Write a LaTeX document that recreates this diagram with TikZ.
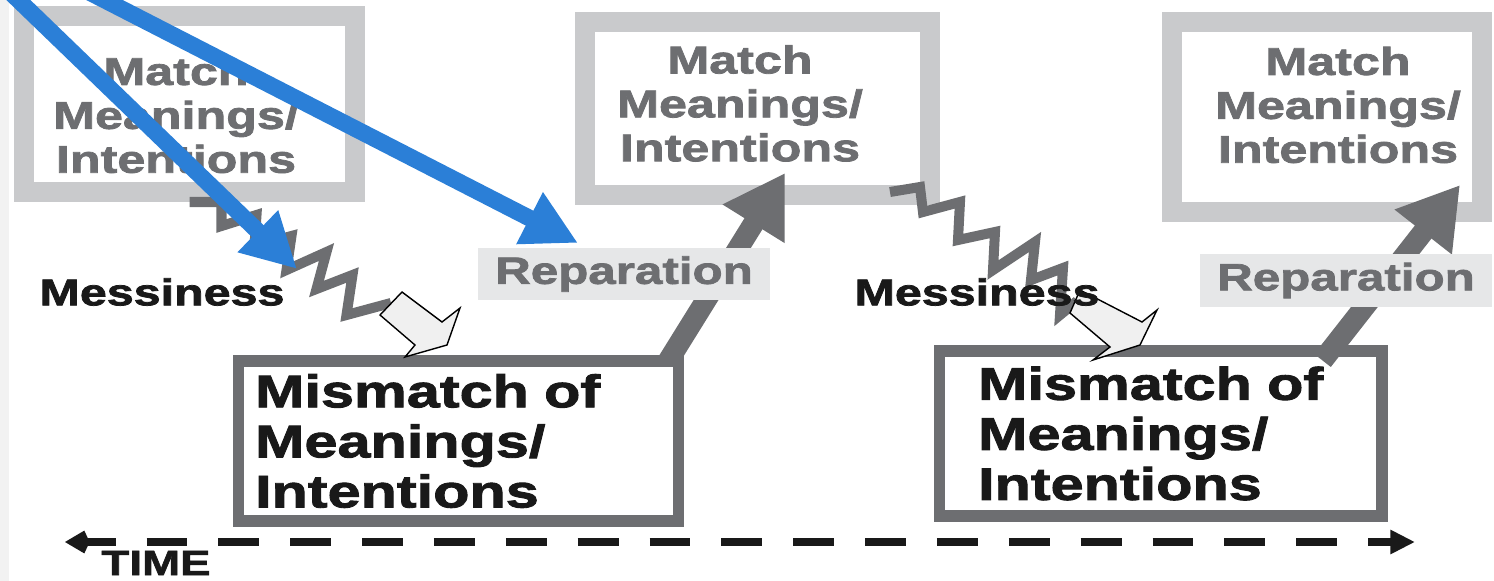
\documentclass[tikz,border=0pt]{standalone}
\usepackage{fontspec}
\usepackage{xcolor}
\usepackage{tikz}
\usetikzlibrary{arrows.meta,calc}
\newfontfamily\diagfont{Liberation Sans}[FakeStretch=1.3, FakeBold=2]
\definecolor{matchgray}{RGB}{201,202,204}
\definecolor{inkgray}{RGB}{109,110,113}
\definecolor{labelgray}{RGB}{230,231,232}
\definecolor{markblue}{RGB}{43,127,215}

\begin{document}
\begin{tikzpicture}[x=0.02cm, y=-0.02cm,
  matchbox/.style={draw=matchgray, line width=11.4pt, rectangle, inner sep=0pt},
  matchtext/.style={inner sep=0pt, align=center, text=inkgray, font=\diagfont\bfseries\fontsize{22}{25}\selectfont},
  mismatchbox/.style={draw=inkgray, line width=6.3pt, rectangle, inner sep=0pt, align=left, text=black!90, font=\diagfont\bfseries\fontsize{26}{28.5}\selectfont},
  replabel/.style={fill=labelgray, rectangle, inner sep=0pt, text=inkgray, font=\diagfont\bfseries\fontsize{21.6}{24}\selectfont},
  messlabel/.style={inner sep=0pt, text=black!90, font=\diagfont\bfseries\fontsize{21.2}{24}\selectfont},
  zigzag/.style={draw=inkgray, line width=5.7pt},
  hollow/.style={draw=black, line width=0.8pt, fill=gray!12},
  reparrow/.style={draw=inkgray, line width=12pt, -{Triangle[length=34pt 0 0, width=39pt 0 0]}},
  markarrow/.style={draw=markblue, line width=9.5pt, -{Triangle[length=31pt 0 0, width=31pt 0 0]}},
  timeline/.style={draw=black!90, line width=5.1pt, dash pattern=on 23.3pt off 17.6pt, dash phase=5.7pt,
    {Kite[length=14pt 0 0, width=13pt 0 0, inset=3pt 0 0]}-{Triangle[length=14pt 0 0, width=13pt 0 0]}},
]
\useasboundingbox (0,0) rectangle (1494,581);
\clip (0,0) rectangle (1494,581);
\fill[black!5] (0,0) rectangle (9,581);

% boxes
\node[matchbox, minimum width=6.62cm, minimum height=3.52cm,
  label={[matchtext, xshift=-0.27cm, yshift=-0.22cm]center:{Match\\Meanings/\\Intentions}}] (m1) at (189.5,104) {};
\node[matchbox, minimum width=6.9cm, minimum height=3.46cm,
  label={[matchtext, xshift=-0.35cm, yshift=0.1cm]center:{Match\\Meanings/\\Intentions}}] (m2) at (757.5,108.5) {};
\node[matchbox, minimum width=6.2cm, minimum height=3.8cm,
  label={[matchtext, xshift=0.22cm, yshift=0.24cm]center:{Match\\Meanings/\\Intentions}}] (m3) at (1327,117) {};
\node[mismatchbox, minimum width=8.82cm, minimum height=3.2cm, text width=8.14cm] (mm1) at (458.5,441) {Mismatch of\\Meanings/\\Intentions};
\node[mismatchbox, minimum width=8.86cm, minimum height=3.3cm, text width=7.3cm] (mm2) at (1160.5,433.5) {Mismatch of\\Meanings/\\Intentions};

% messiness
\coordinate (h1) at (391,303);
\coordinate (h2) at (1077,301);
\draw[zigzag] (m1.south) -- ++(32,0) -- ++(0,24) -- ++(35,-11) -- ++(-2,31) -- ++(37,-10) -- ++(-5,34)
  -- ++(40,-18) -- ++(-10,37) -- ++(36,-14) -- ++(-6,40) -- (h1);
\draw[zigzag] ($(m2.south east)+(-50,-13)$) -- ++(30,-5) -- ++(3,25) -- ++(37,-10) -- ++(-2,38) -- ++(37,-8)
  -- ++(-2,38) -- ++(42,-28) -- ++(-4,38) -- ++(32,-12) -- ++(-3,47) -- (h2);
\draw[hollow] (h1) ++(11,-11) -- ++(40,30) -- ++(18,-14) -- ++(-13,37) -- ++(-42,12) -- ++(10,-12) -- ++(-35,-30) -- cycle;
\draw[hollow] (h2) ++(3,-11) -- ++(62,32) -- ++(15,-12) -- ++(-17,35) -- ++(-47,15) -- ++(17,-13) -- ++(-40,-34) -- cycle;
\node[messlabel] (mess1) at (162,292) {Messiness};
\node[messlabel] (mess2) at (977,292) {Messiness};

% reparation
\draw[reparrow] ($(mm1.north)+(210,5)$) -- ($(m2.south)+(27.5,-32)$);
\draw[reparrow] ($(mm2.north)+(162,15)$) -- ($(m3.south)+(133,-37)$);
\node[replabel, minimum width=5.84cm, minimum height=1.04cm] (rep1) at (624,274) {Reparation};
\node[replabel, minimum width=5.84cm, minimum height=1.06cm] (rep2) at (1346,280.5) {Reparation};

% time
\coordinate (t0) at (65,542);
\coordinate (t1) at (1415,542);
\draw[timeline] (t0) -- (t1);
\node[messlabel, font=\diagfont\bfseries\fontsize{20}{22}\selectfont] (time) at (156,563) {TIME};

% blue pointers
\coordinate (b1s) at (8,-10);
\coordinate (b1e) at (297,269);
\coordinate (b2s) at (85,-10);
\coordinate (b2e) at (578,243);
\draw[markarrow] (b1s) -- (b1e);
\draw[markarrow] (b2s) -- (b2e);
\end{tikzpicture}
\end{document}
